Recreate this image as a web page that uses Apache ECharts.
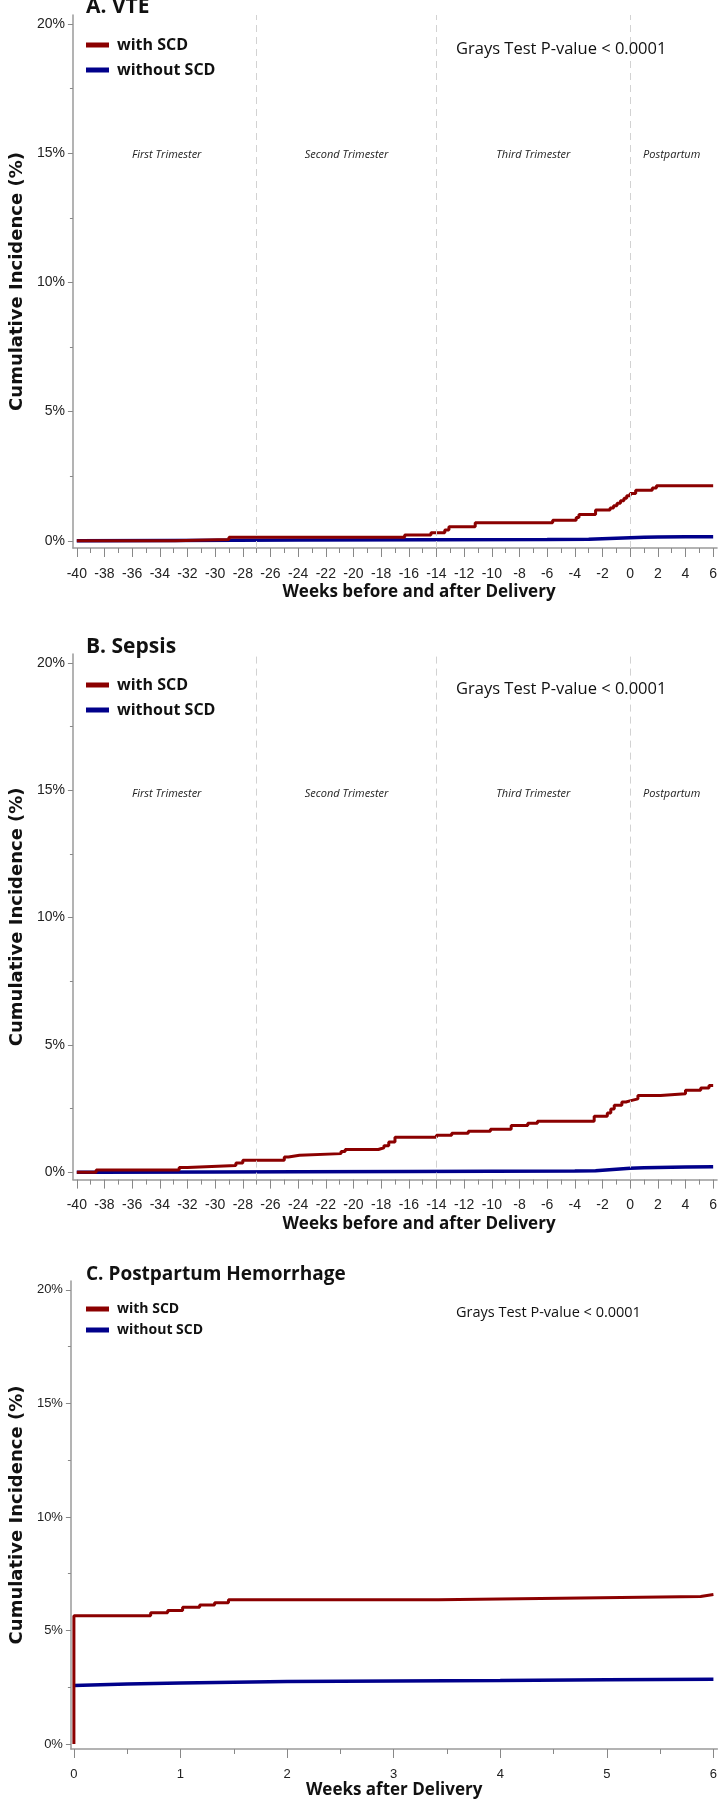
<!DOCTYPE html>
<html><head><meta charset="utf-8">
<script src="https://cdn.jsdelivr.net/npm/echarts@6/dist/echarts.min.js"></script>
<style>html,body{margin:0;padding:0;background:#fff}#c{width:720px;height:1800px}</style>
</head><body><div id="c"></div>
<script>
// ---------------- data ----------------
const panelTitles = ['A. VTE', 'B. Sepsis', 'C. Postpartum Hemorrhage'];
const seriesNames = ['with SCD', 'without SCD'];
const testText = 'Grays Test P-value < 0.0001';
const yAxisTitle = 'Cumulative Incidence (%)';
const xAxisTitles = ['Weeks before and after Delivery', 'Weeks before and after Delivery', 'Weeks after Delivery'];
const periodNames = ['First Trimester', 'Second Trimester', 'Third Trimester', 'Postpartum'];
const periodBounds = [-40, -27, -14, 0, 6];
const dividerWeeks = [-27, -14, 0];
const weekTicksPregnancy = [-40,-38,-36,-34,-32,-30,-28,-26,-24,-22,-20,-18,-16,-14,-12,-10,-8,-6,-4,-2,0,2,4,6];
const weekMinorPregnancy = [-39,-37,-35,-33,-31,-29,-27,-25,-23,-21,-19,-17,-15,-13,-11,-9,-7,-5,-3,-1,1,3,5];
const weekTicksPostpartum = [0,1,2,3,4,5,6];
const weekMinorPostpartum = [0.5,1.5,2.5,3.5,4.5,5.5];
const pctTicks = [0,5,10,15,20];
const pctMinor = [2.5,7.5,12.5,17.5];

// [week, cumulative incidence %]
const vteWithSCD = [[-40,0],[-32.9,0.05],[-29,0.14],[-16.3,0.22],[-14.4,0.31],[-13.4,0.42],[-13.1,0.54],[-11.2,0.70],[-5.6,0.79],[-3.9,0.90],[-3.7,1.02],[-2.5,1.19],[-1.45,1.27],[-1.2,1.36],[-0.95,1.45],[-0.7,1.55],[-0.45,1.65],[-0.25,1.74],[0,1.83],[0.4,1.96],[1.6,2.04],[1.9,2.13],[6,2.13]];
const vteWithoutSCD = [[-40,0],[-33,0.01],[-24,0.03],[-14,0.04],[-6,0.05],[-3,0.06],[-1.5,0.09],[0,0.12],[1,0.14],[2,0.15],[4,0.16],[6,0.16]];
const sepsisWithSCD = [[-40,0],[-38.6,0.09],[-32.6,0.19],[-32.0,0.26],[-28.5,0.36],[-28.0,0.47],[-25.0,0.60],[-24.7,0.67],[-23.9,0.73],[-20.9,0.81],[-20.6,0.89],[-18.2,0.96],[-17.8,1.04],[-17.45,1.19],[-17.0,1.37],[-14.0,1.45],[-12.9,1.53],[-11.7,1.61],[-10.1,1.69],[-8.6,1.83],[-7.4,1.92],[-6.7,2.0],[-2.6,2.2],[-1.65,2.33],[-1.4,2.48],[-1.15,2.63],[-0.6,2.76],[-0.3,2.81],[0.05,2.88],[0.56,3.01],[2.2,3.08],[4.0,3.22],[5.1,3.31],[5.7,3.41],[6,3.41]];
const sepsisWithoutSCD = [[-40,0],[-38.6,0.0],[-30,0.01],[-24,0.02],[-16,0.03],[-10,0.04],[-4,0.05],[-2.5,0.06],[-1.5,0.1],[-0.5,0.14],[0,0.16],[1,0.18],[2,0.19],[4,0.2],[6,0.21]];
const pphWithSCD = [[0,0],[0,5.65],[0.72,5.78],[0.88,5.88],[1.02,6.02],[1.18,6.12],[1.32,6.22],[1.45,6.35],[3.42,6.42],[4.57,6.50],[5.88,6.58],[6,6.58]];
const pphWithoutSCD = [[0,2.58],[0.5,2.64],[1,2.69],[1.5,2.72],[2,2.75],[3,2.78],[4,2.80],[5,2.83],[6,2.85]];

// ---------------- layout / style ----------------
const RED = '#8B0000', BLUE = '#00008B';
const AXIS_GRAY = '#9a9a9a';
const panels = [
  {top: 15, height: 533, left: 64, xMin: -40.28, xMax: 6.28, yMin: -0.28, yMax: 20.35,
   ticks: weekTicksPregnancy, minor: weekMinorPregnancy, withSCD: vteWithSCD, withoutSCD: vteWithoutSCD,
   titleTop: -3, titleSize: 21, legendTop: 37, legendSize: 16, legendGap: 9, testTop: 41, testSize: 16.5,
   namePadLeft: 48, nameGap: 36, periods: true, tickSize: 14},
  {top: 654, height: 525.6, left: 64, xMin: -40.28, xMax: 6.28, yMin: -0.29, yMax: 20.35,
   ticks: weekTicksPregnancy, minor: weekMinorPregnancy, withSCD: sepsisWithSCD, withoutSCD: sepsisWithoutSCD,
   titleTop: 637, titleSize: 21, legendTop: 677, legendSize: 16, legendGap: 9, testTop: 680.5, testSize: 16.5,
   namePadLeft: 48, nameGap: 36, periods: true, tickSize: 14},
  {top: 1281, height: 470, left: 65, xMin: -0.028, xMax: 6.037, yMin: -0.22, yMax: 20.39,
   ticks: weekTicksPostpartum, minor: weekMinorPostpartum, withSCD: pphWithSCD, withoutSCD: pphWithoutSCD,
   titleTop: 1265, titleSize: 19, legendTop: 1302, legendSize: 14, legendGap: 7, testTop: 1305, testSize: 14.5,
   namePadLeft: 0, nameGap: 33, periods: false, tickSize: 13}
];

const grid = [], xAxis = [], yAxis = [], series = [], title = [], legend = [];
panels.forEach((p, i) => {
  grid.push({left: p.left, right: 0, top: p.top, height: p.height});
  const tickLabel = {fontFamily: 'Liberation Sans', fontSize: p.tickSize, color: '#222'};
  // main x axis (major ticks + labels + name)
  xAxis.push({
    type: 'value', gridIndex: i, position: 'bottom', min: p.xMin, max: p.xMax,
    axisLine: {show: true, onZero: false, lineStyle: {color: AXIS_GRAY, width: 1.5}},
    axisTick: {show: true, customValues: p.ticks, length: 9, lineStyle: {color: '#888', width: 1}},
    axisLabel: Object.assign({customValues: p.ticks, margin: 19}, tickLabel),
    splitLine: {show: false},
    name: xAxisTitles[i], nameLocation: 'middle', nameGap: p.nameGap,
    nameTextStyle: {fontFamily: 'Open Sans', fontWeight: 'bold', fontSize: 17, color: '#111', padding: [0, 0, 0, p.namePadLeft]}
  });
  // minor x ticks
  xAxis.push({
    type: 'value', gridIndex: i, position: 'bottom', min: p.xMin, max: p.xMax,
    axisLine: {show: false, onZero: false}, axisLabel: {show: false}, splitLine: {show: false},
    axisTick: {show: true, customValues: p.minor, length: 5, lineStyle: {color: '#888', width: 1}}
  });
  yAxis.push({
    type: 'value', gridIndex: i, position: 'left', min: p.yMin, max: p.yMax,
    axisLine: {show: true, onZero: false, lineStyle: {color: AXIS_GRAY, width: 1.5}},
    axisTick: {show: true, customValues: pctTicks, length: 5, lineStyle: {color: '#888', width: 1}},
    axisLabel: Object.assign({customValues: pctTicks, margin: 8, formatter: '{value}%'}, tickLabel),
    splitLine: {show: false},
    name: yAxisTitle, nameLocation: 'middle', nameGap: 43,
    nameTextStyle: {fontFamily: 'DejaVu Sans', fontWeight: 'bold', fontSize: 18, color: '#111'}
  });
  // minor y ticks
  yAxis.push({
    type: 'value', gridIndex: i, position: 'left', min: p.yMin, max: p.yMax,
    axisLine: {show: false, onZero: false}, axisLabel: {show: false}, splitLine: {show: false},
    axisTick: {show: true, customValues: pctMinor, length: 3, lineStyle: {color: '#888', width: 1}}
  });
  const xi = i * 2, yi = i * 2;
  const blue = {
    type: 'line', name: seriesNames[1], xAxisIndex: xi, yAxisIndex: yi, data: p.withoutSCD,
    showSymbol: false, symbol: 'none', color: BLUE, lineStyle: {color: BLUE, width: 3.5}, z: 3
  };
  const red = {
    type: 'line', name: seriesNames[0], xAxisIndex: xi, yAxisIndex: yi, data: p.withSCD,
    step: 'end', showSymbol: false, symbol: 'none', color: RED, lineStyle: {color: RED, width: 3}, z: 4
  };
  if (p.periods) {
    blue.markLine = {
      silent: true, symbol: 'none', label: {show: false},
      lineStyle: {type: [7, 5], color: '#d2d2d2', width: 1},
      data: dividerWeeks.map(w => ({xAxis: w}))
    };
    blue.markArea = {
      silent: true, itemStyle: {color: 'rgba(0,0,0,0)'},
      label: {show: true, position: ['50%', 140], align: 'center', verticalAlign: 'middle',
              fontFamily: 'Open Sans', fontStyle: 'italic', fontSize: 11, color: '#222'},
      data: periodNames.map((n, k) => [{xAxis: periodBounds[k], name: n}, {xAxis: periodBounds[k + 1]}])
    };
  }
  series.push(blue, red);
  title.push({text: panelTitles[i], left: 86, top: p.titleTop, padding: 0,
    textStyle: {fontFamily: 'Open Sans', fontWeight: 'bold', fontSize: p.titleSize, color: '#111'}});
  title.push({text: testText, left: 456, top: p.testTop, padding: 0,
    textStyle: {fontFamily: 'Open Sans', fontWeight: 'normal', fontSize: p.testSize, color: '#111'}});
  legend.push({
    data: seriesNames, orient: 'vertical', left: 86, top: p.legendTop, padding: 0,
    icon: 'rect', itemWidth: 23, itemHeight: 5, itemGap: p.legendGap, selectedMode: false,
    textStyle: {fontFamily: 'Open Sans', fontWeight: 'bold', fontSize: p.legendSize, color: '#111', padding: [0, 0, 0, 3]}
  });
});

const chart = echarts.init(document.getElementById('c'), null, {renderer: 'canvas'});
chart.setOption({
  animation: false, backgroundColor: '#fff',
  title, legend, grid, xAxis, yAxis, series
});
</script></body></html>
